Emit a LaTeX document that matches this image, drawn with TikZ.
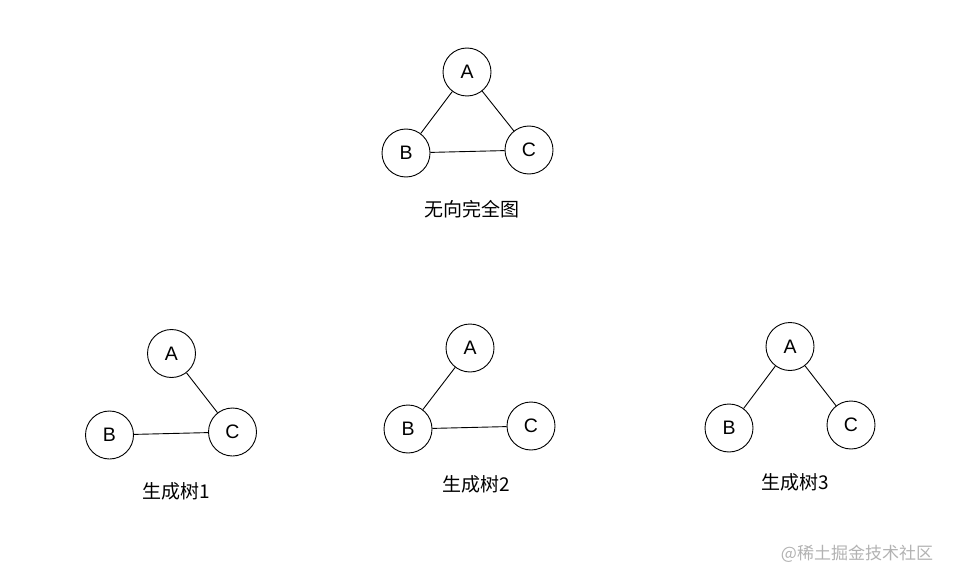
\documentclass[tikz,border=0pt]{standalone}
\usepackage{fontspec}
\setmainfont{Liberation Sans}
\newfontfamily\cjk{Noto Sans CJK SC}
\begin{document}
\begin{tikzpicture}[x=1pt,y=-1pt,
  vtx/.style={circle,draw,line width=0.9pt,minimum size=48pt,inner sep=0pt,font=\fontsize{19.5}{23}\selectfont},
  edge/.style={line width=0.9pt},
  lbl/.style={font=\cjk\fontsize{19}{22}\selectfont,inner sep=0pt}]
\useasboundingbox (0,0) rectangle (956,583);
% top complete graph
\node[vtx] (A0) at (467,72) {A};
\node[vtx] (B0) at (406,153) {B};
\node[vtx] (C0) at (529,150) {C};
\draw[edge] (A0) -- (B0);
\draw[edge] (A0) -- (C0);
\draw[edge] (B0) -- (C0);
\node[lbl] (L0) at (472,209) {无向完全图};
% tree 1
\node[vtx] (A1) at (171.5,353.5) {A};
\node[vtx] (B1) at (109.5,435) {B};
\node[vtx] (C1) at (232.5,432) {C};
\draw[edge] (A1) -- (C1);
\draw[edge] (B1) -- (C1);
\node[lbl] (L1) at (176.5,491) {生成树1};
% tree 2
\node[vtx] (A2) at (470,348) {A};
\node[vtx] (B2) at (408,429) {B};
\node[vtx] (C2) at (531,426) {C};
\draw[edge] (A2) -- (B2);
\draw[edge] (B2) -- (C2);
\node[lbl] (L2) at (476,484) {生成树2};
% tree 3
\node[vtx] (A3) at (790,346.5) {A};
\node[vtx] (B3) at (729,428) {B};
\node[vtx] (C3) at (851,425) {C};
\draw[edge] (A3) -- (B3);
\draw[edge] (A3) -- (C3);
\node[lbl] (L3) at (795,482) {生成树3};
% watermark
\node[font=\cjk\fontsize{17}{20}\selectfont,text=black!30,inner sep=0pt] (W) at (857,554) {@稀土掘金技术社区};
\end{tikzpicture}
\end{document}
